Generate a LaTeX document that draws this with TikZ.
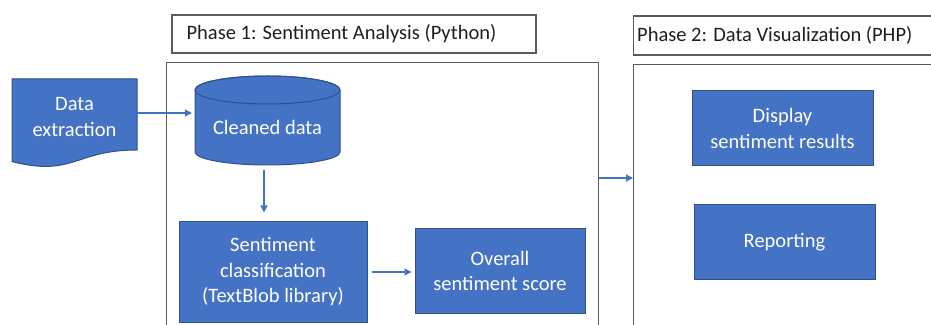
\documentclass[tikz,border=0pt]{standalone}
\usepackage{fontspec}
\setmainfont{Carlito}
\usetikzlibrary{arrows.meta}
\definecolor{officeblue}{HTML}{4472C4}
\definecolor{blueedge}{HTML}{2F528F}
\definecolor{framegray}{HTML}{5A5A5A}
\definecolor{textdark}{HTML}{1E1E1E}
\begin{document}
\begin{tikzpicture}[x=1pt,y=1pt,
  font=\fontsize{20.5}{25.5}\selectfont,
  bluebox/.style={draw=blueedge, fill=officeblue, line width=1pt, text=white, align=center, inner sep=0pt},
  plaintext/.style={text=white, align=center, inner sep=0pt},
  arr/.style={draw=officeblue, line width=1.2pt, -{Triangle[width=7pt,length=7pt]}},
  frame/.style={draw=framegray, line width=1.2pt, inner sep=0pt},
  titletext/.style={text=textdark, anchor=west, inner sep=0pt},
  shapefill/.style={fill=officeblue, draw=blueedge, line width=1pt}
]
\useasboundingbox (0,0) rectangle (931,324);
\begin{scope}
\clip (0,0) rectangle (931,324);
% phase frames
\node[frame, minimum width=364pt, minimum height=38pt] (t1) at (354,290) {};
\node[titletext] (t1text) at ([xshift=15pt]t1.west) {Phase 1: Sentiment Analysis (Python)};
\node[frame, anchor=north west, minimum width=432pt, minimum height=290pt] (p1) at (166,262) {};
\node[frame, anchor=west, minimum width=330pt, minimum height=39pt] (t2) at (633,288.5) {};
\node[titletext] (t2text) at ([xshift=4pt]t2.west) {Phase 2: Data Visualization (PHP)};
\node[frame, anchor=north west, minimum width=330pt, minimum height=290pt] (p2) at (633,260) {};

% data extraction document shape
\path[shapefill] (12,245) -- (137,245) -- (137,174) .. controls (74.5,174) and (74.5,147) .. (12,162.3) -- cycle;
\node[plaintext, minimum width=125pt] (de) at (74.5,207) {Data\\extraction};

% cylinder
\path[shapefill] (195,234) -- (195,172) arc[start angle=180, end angle=360, x radius=72.5pt, y radius=13pt]
  -- (340,234) arc[start angle=0, end angle=180, x radius=72.5pt, y radius=14pt] -- cycle;
\draw[blueedge, line width=1pt] (267.5,234) ellipse[x radius=72.5pt, y radius=14pt];
\node[plaintext, minimum width=145pt, minimum height=75pt] (cyl) at (267.5,196.5) {Cleaned data};

% boxes
\node[bluebox, minimum width=188pt, minimum height=100pt] (cls) at (273,52) {Sentiment\\classification\\(TextBlob library)};
\node[bluebox, minimum width=170pt, minimum height=84pt] (ovr) at (500,53) {Overall\\sentiment score};
\node[bluebox, minimum width=181pt, minimum height=75pt] (disp) at (782.5,195.5) {Display\\sentiment results};
\node[bluebox, minimum width=181pt, minimum height=74pt] (rep) at (784.5,82) {Reporting};

% connectors
\draw[arr, shorten >=3pt] ([yshift=4pt]de.east) -- ([yshift=4pt]de.east -| cyl.west);
\draw[arr, shorten <=5pt, shorten >=9pt] ([xshift=-3.5pt]cyl.south) -- ([xshift=-3.5pt]cyl.south |- cls.north);
\draw[arr, shorten <=4pt, shorten >=3pt] (cls.east) -- (cls.east -| ovr.west);
\draw[arr] ([yshift=-116pt]p1.north east) -- ([yshift=-114pt]p2.north west);
\end{scope}
\end{tikzpicture}
\end{document}
